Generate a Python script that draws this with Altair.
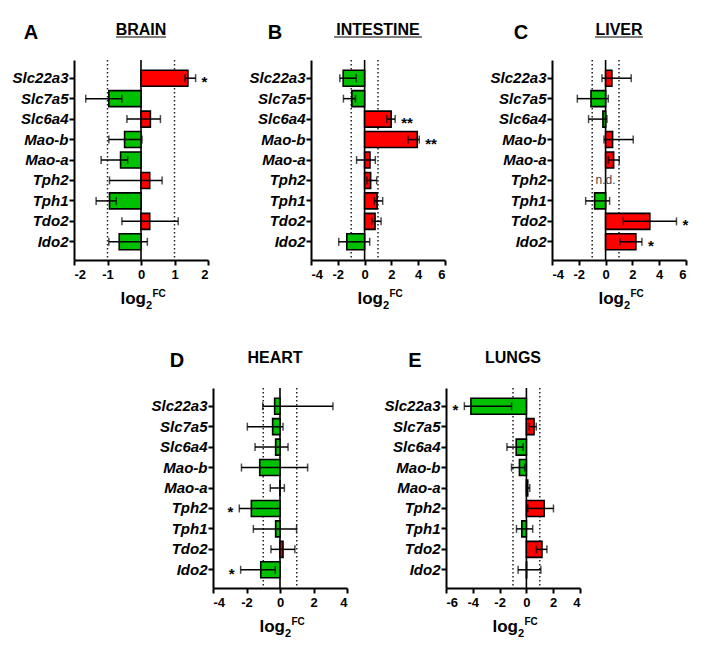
import altair as alt
import pandas as pd

genes = ["Slc22a3", "Slc7a5", "Slc6a4", "Mao-b", "Mao-a", "Tph2", "Tph1", "Tdo2", "Ido2"]

# BRAIN
brain_fc = [1.40, -0.96, 0.28, -0.49, -0.61, 0.26, -0.94, 0.26, -0.65]
brain_lo = [1.31, -1.65, -0.42, -0.96, -1.19, -0.94, -1.34, -0.57, -0.96]
brain_hi = [1.63, -0.57, 0.58, 0.03, -0.40, 0.63, -0.74, 1.11, 0.19]
brain_sig = ["*", "", "", "", "", "", "", "", ""]

# INTESTINE
intestine_fc = [-1.60, -0.95, 1.98, 3.93, 0.40, 0.45, 0.93, 0.78, -1.33]
intestine_lo = [-1.85, -1.58, 1.65, 3.25, -0.60, 0.18, 0.73, 0.53, -1.93]
intestine_hi = [-0.63, -0.68, 2.28, 4.08, 0.80, 0.90, 1.35, 1.23, 0.38]
intestine_sig = ["", "", "**", "**", "", "", "", "", ""]

# LIVER (Tph2 not detected)
liver_fc = [0.47, -1.09, -0.20, 0.52, 0.60, None, -0.82, 3.30, 2.26]
liver_lo = [-0.27, -2.11, -1.27, -0.12, 0.20, None, -1.49, 1.32, 1.07]
liver_hi = [1.91, 0.20, 0.10, 2.06, 1.02, None, 0.30, 5.29, 2.71]
liver_sig = ["", "", "", "", "", "", "", "*", "*"]
liver_nd = ["Tph2"]

# HEART
heart_fc = [-0.32, -0.44, -0.26, -1.21, 0.0, -1.71, -0.26, 0.18, -1.15]
heart_lo = [-1.03, -1.95, -1.49, -2.30, -0.58, -2.43, -1.59, -0.54, -2.35]
heart_hi = [3.16, 0.18, 0.48, 1.65, 0.26, -0.02, 0.99, 0.89, -0.28]
heart_sig = ["", "", "", "", "", "*", "", "", "*"]

# LUNGS
lungs_fc = [-4.14, 0.57, -0.76, -0.52, 0.10, 1.33, -0.34, 1.16, 0.02]
lungs_lo = [-4.63, 0.22, -1.45, -1.11, 0.00, 0.10, -0.74, 0.75, -0.62]
lungs_hi = [-1.11, 0.74, -0.25, -0.12, 0.25, 2.02, 0.47, 1.53, 1.08]
lungs_sig = ["*", "", "", "", "", "", "", "", ""]

FONT = "Liberation Sans"
GREEN = "#00C000"
RED = "#FF0000"
W, H = 134, 200


def panel(letter, name, fc, lo, hi, sig, domain, ticks, nd=None,
          letter_x=-43, title_dx=0, title_size=16, underline_w=None):
    df = pd.DataFrame({"gene": genes, "fc": fc, "lo": lo, "hi": hi, "sig": sig})
    df = df.dropna(subset=["fc"])
    df["dir"] = ["up" if v >= 0 else "down" for v in df["fc"]]

    xs = alt.Scale(domain=domain, nice=False, zero=False)
    xa = alt.Axis(values=ticks, title=None, labelExpr="'' + datum.value", grid=False)
    ysc = alt.Scale(paddingInner=0.22, paddingOuter=0.5)
    ya = alt.Axis(title=None, grid=False)
    y = alt.Y("gene:N", sort=genes, scale=ysc, axis=ya)

    layers = []
    refs = pd.DataFrame({"r": [-1, 1]})
    layers.append(alt.Chart(refs).mark_rule(strokeDash=[1.5, 2.5], color="#222", strokeWidth=1.5)
                  .encode(x=alt.X("r:Q", scale=xs, axis=xa)))
    layers.append(alt.Chart(pd.DataFrame({"r": [0]})).mark_rule(color="black", strokeWidth=1.6)
                  .encode(x=alt.X("r:Q", scale=xs, axis=xa)))
    base = alt.Chart(df)
    layers.append(base.mark_bar(stroke="black", strokeWidth=1.6).encode(
        x=alt.X("fc:Q", scale=xs, axis=xa), y=y,
        color=alt.Color("dir:N", scale=alt.Scale(domain=["up", "down"], range=[RED, GREEN]), legend=None)))
    layers.append(base.mark_rule(color="black", strokeWidth=1.5).encode(
        x=alt.X("lo:Q", scale=xs, axis=xa), x2="hi:Q", y=y))
    layers.append(base.mark_tick(color="black", thickness=1.5, size=8).encode(
        x=alt.X("lo:Q", scale=xs, axis=xa), y=y))
    layers.append(base.mark_tick(color="black", thickness=1.5, size=8).encode(
        x=alt.X("hi:Q", scale=xs, axis=xa), y=y))
    up = df[(df["sig"] != "") & (df["fc"] >= 0)]
    dn = df[(df["sig"] != "") & (df["fc"] < 0)]
    if len(up):
        layers.append(alt.Chart(up).mark_text(align="left", baseline="alphabetic", dx=6, dy=9,
                                              fontSize=15, fontWeight="bold", font=FONT, color="black")
                      .encode(x=alt.X("hi:Q", scale=xs, axis=xa), y=y, text="sig:N"))
    if len(dn):
        layers.append(alt.Chart(dn).mark_text(align="right", baseline="alphabetic", dx=-6, dy=9,
                                              fontSize=15, fontWeight="bold", font=FONT, color="black")
                      .encode(x=alt.X("lo:Q", scale=xs, axis=xa), y=y, text="sig:N"))
    if nd:
        ndf = pd.DataFrame({"gene": nd, "x": [0] * len(nd), "t": ["n.d."] * len(nd)})
        layers.append(alt.Chart(ndf).mark_text(align="center", baseline="middle", fontSize=12,
                                               font=FONT, color="#444")
                      .encode(x=alt.X("x:Q", scale=xs, axis=xa), y=y, text="t:N"))

    one = pd.DataFrame({"letter": [letter], "name": [name], "log": ["log"], "sub": ["2"], "sup": ["FC"]})
    ann = alt.Chart(one)
    layers.append(ann.mark_text(align="center", baseline="alphabetic", fontSize=20, fontWeight="bold",
                                font=FONT, color="black")
                  .encode(x=alt.value(letter_x), y=alt.value(-21), text="letter:N"))
    layers.append(ann.mark_text(align="center", baseline="alphabetic", fontSize=title_size, fontWeight="bold",
                                font=FONT, color="black")
                  .encode(x=alt.value(W / 2 + title_dx), y=alt.value(-25), text="name:N"))
    if underline_w:
        layers.append(ann.mark_rule(color="black", strokeWidth=1.2)
                      .encode(x=alt.value(W / 2 + title_dx - underline_w / 2),
                              x2=alt.value(W / 2 + title_dx + underline_w / 2),
                              y=alt.value(-23)))
    layers.append(ann.mark_text(align="right", baseline="alphabetic", fontSize=17, fontWeight="bold",
                                font=FONT, color="black")
                  .encode(x=alt.value(W / 2 + 5), y=alt.value(H + 44), text="log:N"))
    layers.append(ann.mark_text(align="left", baseline="alphabetic", fontSize=11, fontWeight="bold",
                                font=FONT, color="black")
                  .encode(x=alt.value(W / 2 + 5), y=alt.value(H + 49), text="sub:N"))
    layers.append(ann.mark_text(align="left", baseline="alphabetic", fontSize=10, fontWeight="bold",
                                font=FONT, color="black")
                  .encode(x=alt.value(W / 2 + 11.5), y=alt.value(H + 37), text="sup:N"))
    return alt.layer(*layers).properties(width=W, height=H)


A = panel("A", "BRAIN", brain_fc, brain_lo, brain_hi, brain_sig, [-2, 2], [-2, -1, 0, 1, 2],
          letter_x=-43, underline_w=50)
B = panel("B", "INTESTINE", intestine_fc, intestine_lo, intestine_hi, intestine_sig, [-4, 6],
          [-4, -2, 0, 2, 4, 6], letter_x=-36, underline_w=88)
C = panel("C", "LIVER", liver_fc, liver_lo, liver_hi, liver_sig, [-4, 6], [-4, -2, 0, 2, 4, 6],
          nd=liver_nd, letter_x=-31, underline_w=48)
D = panel("D", "HEART", heart_fc, heart_lo, heart_hi, heart_sig, [-4, 4], [-4, -2, 0, 2, 4],
          letter_x=-36, title_dx=-5)
E = panel("E", "LUNGS", lungs_fc, lungs_lo, lungs_hi, lungs_sig, [-6, 4], [-6, -4, -2, 0, 2, 4],
          letter_x=-31)

spacer = alt.Chart(pd.DataFrame({"s": [0]})).mark_point(opacity=0).encode(
    x=alt.value(0), y=alt.value(0)).properties(width=77, height=10)

top = alt.hconcat(A, alt.hconcat(B, C, spacing=44), spacing=40)
bottom = alt.hconcat(spacer, alt.hconcat(D, E, spacing=36), spacing=0)

chart = alt.vconcat(top, bottom, spacing=39, center=False).properties(
    padding={"left": 4, "top": 14, "right": 0, "bottom": 0}
).configure_view(stroke=None).configure_axis(
    domainColor="black", domainWidth=2, tickColor="black", tickWidth=2, tickSize=5,
    grid=False, labelColor="black", labelFont=FONT
).configure_axisX(
    labelFontSize=13, labelFontWeight="bold", labelPadding=3
).configure_axisY(
    labelFontSize=15, labelFontWeight="bold", labelFontStyle="italic", labelPadding=1
)

chart.save("out.html", embed_options={"renderer": "svg", "actions": False})
